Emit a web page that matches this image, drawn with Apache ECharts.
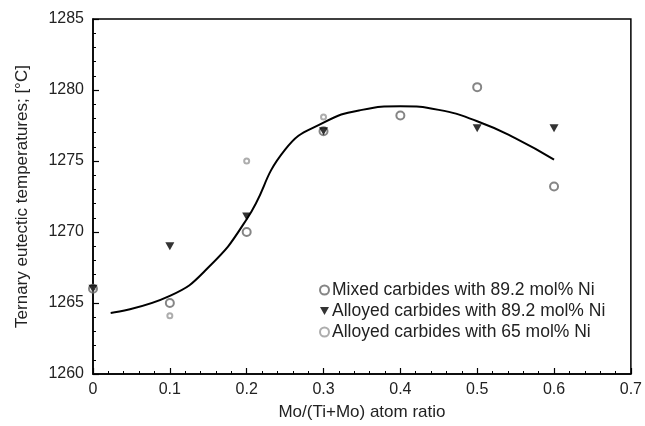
<!DOCTYPE html>
<html>
<head>
<meta charset="utf-8">
<script src="https://cdn.jsdelivr.net/npm/echarts@6/dist/echarts.min.js"></script>
<style>
  html, body { margin: 0; padding: 0; background: #fff; }
  #chart { width: 645px; height: 426px; }
</style>
</head>
<body>
<div id="chart"></div>
<script>
var mixedNi892 = [[0, 1266], [0.1, 1265], [0.2, 1270], [0.3, 1277.1], [0.4, 1278.2], [0.5, 1280.2], [0.6, 1273.2]];
var alloyedNi892 = [[0, 1266], [0.1, 1269], [0.2, 1271.1], [0.3, 1277.1], [0.5, 1277.3], [0.6, 1277.3]];
var alloyedNi65 = [[0.1, 1264.1], [0.2, 1275], [0.3, 1278.1]];
var fitCurve = [
    [0.023, 1264.3], [0.1, 1265.5], [0.15, 1267.5], [0.2, 1270.9], [0.25, 1275.8],
    [0.3, 1277.7], [0.35, 1278.6], [0.4, 1278.85], [0.45, 1278.6], [0.5, 1277.8],
    [0.55, 1276.6], [0.6, 1275.1]
];
var legendNames = ['Mixed carbides with 89.2 mol% Ni', 'Alloyed carbides with 89.2 mol% Ni', 'Alloyed carbides with 65 mol% Ni'];

var fontFam = '"Liberation Sans", Arial, sans-serif';
var downTriangle = 'path://M0,0 L10,0 L5,9 Z';

var option = {
    animation: false,
    textStyle: {fontFamily: fontFam},
    grid: {
        left: 93, right: 14, top: 19, bottom: 44,
        show: true,
        borderColor: '#000',
        borderWidth: 1.5
    },
    legend: {
        data: [
            {name: legendNames[0], icon: 'emptyCircle'},
            {name: legendNames[1], icon: downTriangle},
            {name: legendNames[2], icon: 'emptyCircle'}
        ],
        orient: 'vertical',
        left: 314,
        top: 276,
        itemWidth: 9,
        itemHeight: 9,
        itemGap: 3,
        textStyle: {fontSize: 17.5, color: '#222', fontFamily: fontFam, padding: [0, 0, 0, -2]}
    },
    xAxis: {
        type: 'value',
        min: 0,
        max: 0.7,
        interval: 0.1,
        name: 'Mo/(Ti+Mo) atom ratio',
        nameLocation: 'middle',
        nameGap: 30,
        nameTextStyle: {fontSize: 17, color: '#222'},
        axisLine: {lineStyle: {color: '#000', width: 1.5}},
        axisTick: {inside: true, length: 6, lineStyle: {color: '#000', width: 1.2}},
        minorTick: {show: true, splitNumber: 5, length: 3, lineStyle: {color: '#000', width: 1}},
        splitLine: {show: false},
        axisLabel: {fontSize: 16, color: '#222', margin: 8}
    },
    yAxis: {
        type: 'value',
        min: 1260,
        max: 1285,
        interval: 5,
        name: 'Ternary eutectic temperatures; [°C]',
        nameLocation: 'middle',
        nameGap: 62,
        nameTextStyle: {fontSize: 17, color: '#222'},
        axisLine: {show: true, lineStyle: {color: '#000', width: 1.5}},
        axisTick: {show: true, inside: true, length: 6, lineStyle: {color: '#000', width: 1.2}},
        minorTick: {show: true, splitNumber: 5, length: 3, lineStyle: {color: '#000', width: 1}},
        splitLine: {show: false},
        axisLabel: {fontSize: 16, color: '#222', margin: 9, formatter: function (v) { return String(v); }}
    },
    series: [
        {
            name: 'fit',
            type: 'line',
            data: fitCurve,
            smooth: 0.5,
            showSymbol: false,
            lineStyle: {color: '#000', width: 2}
        },
        {
            name: legendNames[0],
            type: 'scatter',
            data: mixedNi892,
            symbol: 'emptyCircle',
            symbolSize: 8,
            itemStyle: {color: '#666', borderWidth: 0.8}
        },
        {
            name: legendNames[1],
            type: 'scatter',
            data: alloyedNi892,
            symbol: 'triangle',
            symbolRotate: 180,
            symbolSize: [9, 8],
            itemStyle: {color: '#000'}
        },
        {
            name: legendNames[2],
            type: 'scatter',
            data: alloyedNi65,
            symbol: 'emptyCircle',
            symbolSize: 5,
            itemStyle: {color: '#999', borderWidth: 0.8}
        }
    ]
};

var myChart = echarts.init(document.getElementById('chart'));
myChart.setOption(option);
</script>
</body>
</html>
